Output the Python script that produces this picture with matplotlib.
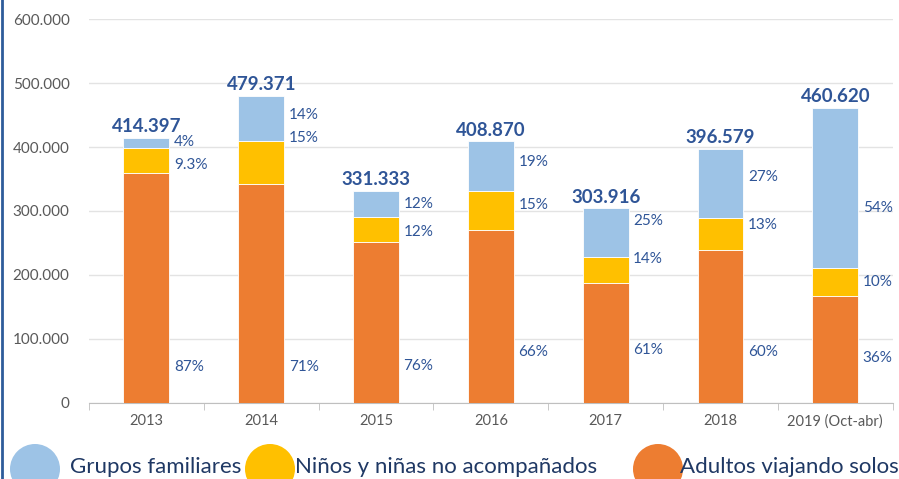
import numpy as np
import matplotlib.pyplot as plt
from matplotlib.patches import Circle
from matplotlib.ticker import FuncFormatter

plt.rcParams['font.family'] = ['Lato', 'DejaVu Sans']

# --- datos ---
years = ['2013', '2014', '2015', '2016', '2017', '2018', '2019 (Oct-abr)']
totals = [414397, 479371, 331333, 408870, 303916, 396579, 460620]
adults = [360000, 342000, 252000, 270000, 187000, 239000, 167000]
kids = [38000, 68000, 39000, 61000, 41000, 50000, 44000]
families = [t - a - k for t, a, k in zip(totals, adults, kids)]

pct_fam = ['4%', '14%', '12%', '19%', '25%', '27%', '54%']
pct_kids = ['9.3%', '15%', '12%', '15%', '14%', '13%', '10%']
pct_adults = ['87%', '71%', '76%', '66%', '61%', '60%', '36%']

# alturas de las etiquetas de porcentaje (como en el original)
y_fam = [408000, 450000, 311000, 377000, 284000, 353000, 305000]
y_kids = [372000, 414000, 267000, 309000, 225000, 278000, 189000]
y_adults = [56000, 56000, 58000, 80000, 83000, 80000, 70000]

c_fam = '#9DC3E6'
c_kids = '#FFC000'
c_adults = '#ED7D31'
c_lab = '#2F5597'

fig = plt.figure(figsize=(8.99, 4.79), dpi=100)
ax = fig.add_axes([0.099, 0.1587, 0.894, 0.8016])

x = np.arange(len(years))
w = 0.4
kw = dict(width=w, edgecolor='white', linewidth=0.6, zorder=3)
ax.bar(x, adults, color=c_adults, **kw)
ax.bar(x, kids, bottom=adults, color=c_kids, **kw)
ax.bar(x, families, bottom=np.add(adults, kids), color=c_fam, **kw)

for i in range(len(years)):
    ax.annotate(f'{totals[i]:,}'.replace(',', '.'), (x[i], totals[i]),
                xytext=(0, 2), textcoords='offset points', ha='center', va='bottom',
                fontsize=13.5, fontweight='bold', color=c_lab)
    for yy, s in ((y_fam[i], pct_fam[i]), (y_kids[i], pct_kids[i]), (y_adults[i], pct_adults[i])):
        ax.text(x[i] + w / 2 + 0.04, yy, s, ha='left', va='center',
                fontsize=11, color=c_lab)

ax.set_xlim(-0.5, len(years) - 0.5)
ax.set_ylim(0, 600000)
ax.set_yticks(np.arange(0, 600001, 100000))
ax.yaxis.set_major_formatter(FuncFormatter(lambda v, p: f'{int(v):,}'.replace(',', '.')))
ax.grid(axis='y', color='#E3E3E3', linewidth=1, zorder=0)
ax.set_axisbelow(True)

ax.set_xticks(x)
ax.set_xticklabels(years)
ax.set_xticks(np.arange(-0.5, len(years)), minor=True)
ax.tick_params(axis='x', which='major', length=0, pad=8, labelsize=10.5, labelcolor='#595959')
ax.tick_params(axis='x', which='minor', length=5, color='#BFBFBF')
ax.tick_params(axis='y', length=0, pad=14, labelsize=11, labelcolor='#595959')

for s in ('top', 'right', 'left'):
    ax.spines[s].set_visible(False)
ax.spines['bottom'].set_color('#BFBFBF')

# borde azul a la izquierda
fig.add_artist(plt.Line2D([0.0025, 0.0025], [0, 1], transform=fig.transFigure,
                          color='#2E5C9A', linewidth=2))

# leyenda manual
legend_items = [('Grupos familiares', c_fam, 35, 70),
                ('Niños y niñas no acompañados', c_kids, 270, 295),
                ('Adultos viajando solos', c_adults, 658, 680)]
for label, col, cx, tx in legend_items:
    fig.add_artist(Circle((cx / 100, 0.1), 0.25, transform=fig.dpi_scale_trans,
                          facecolor=col, edgecolor='none'))
    fig.text(tx / 899, 0.013, label, ha='left', va='baseline', fontsize=16, color='#1F3864')

fig.savefig('out.png', dpi=100)
